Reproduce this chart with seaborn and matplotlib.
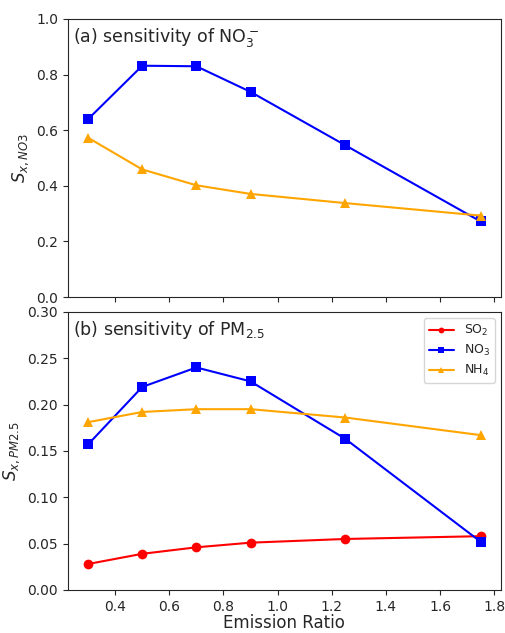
import matplotlib
matplotlib.use('Agg')
import matplotlib.pyplot as plt
import seaborn as sns

# emission ratios
ratio = [0.3, 0.5, 0.7, 0.9, 1.25, 1.75]

# (a) sensitivity of NO3-
a_no3 = [0.640, 0.832, 0.830, 0.738, 0.546, 0.272]
a_nh4 = [0.573, 0.459, 0.402, 0.371, 0.338, 0.293]

# (b) sensitivity of PM2.5
b_so2 = [0.028, 0.039, 0.046, 0.051, 0.055, 0.058]
b_no3 = [0.157, 0.219, 0.240, 0.225, 0.163, 0.052]
b_nh4 = [0.181, 0.192, 0.195, 0.195, 0.186, 0.167]

sns.set_style('ticks')
plt.rcParams['font.family'] = ['DejaVu Sans']

fig, (ax1, ax2) = plt.subplots(2, 1, figsize=(5.06, 6.33), dpi=100, sharex=True)
fig.subplots_adjust(left=0.134, right=0.99, top=0.97, bottom=0.068, hspace=0.053)

ms = 7
sns.lineplot(x=ratio, y=a_no3, ax=ax1, color='blue', marker='s', markersize=ms,
             markeredgewidth=0, label='NO$_3$')
sns.lineplot(x=ratio, y=a_nh4, ax=ax1, color='orange', marker='^', markersize=ms,
             markeredgewidth=0, label='NH$_4$')
ax1.legend_.remove()
ax1.set_ylim(0, 1.0)
ax1.set_ylabel('$S_{x,NO3}$', fontsize=12)
ax1.text(0.012, 0.975, '(a) sensitivity of NO$_3^-$', transform=ax1.transAxes,
         fontsize=12.5, va='top', ha='left')

sns.lineplot(x=ratio, y=b_so2, ax=ax2, color='red', marker='o', markersize=ms,
             markeredgewidth=0, label='SO$_2$')
sns.lineplot(x=ratio, y=b_no3, ax=ax2, color='blue', marker='s', markersize=ms,
             markeredgewidth=0, label='NO$_3$')
sns.lineplot(x=ratio, y=b_nh4, ax=ax2, color='orange', marker='^', markersize=ms,
             markeredgewidth=0, label='NH$_4$')
ax2.set_ylim(0, 0.30)
ax2.set_xlim(0.225, 1.825)
ax2.set_ylabel('$S_{x,PM2.5}$', fontsize=12)
ax2.set_xlabel('Emission Ratio', fontsize=12, labelpad=0)
ax2.text(0.012, 0.975, '(b) sensitivity of PM$_{2.5}$', transform=ax2.transAxes,
         fontsize=12.5, va='top', ha='left')
ax2.legend(loc='upper right', fontsize=9, markerscale=0.6, labelspacing=0.4)

for ax in (ax1, ax2):
    for s in ax.spines.values():
        s.set_visible(True)

fig.savefig('out.png', dpi=100)
